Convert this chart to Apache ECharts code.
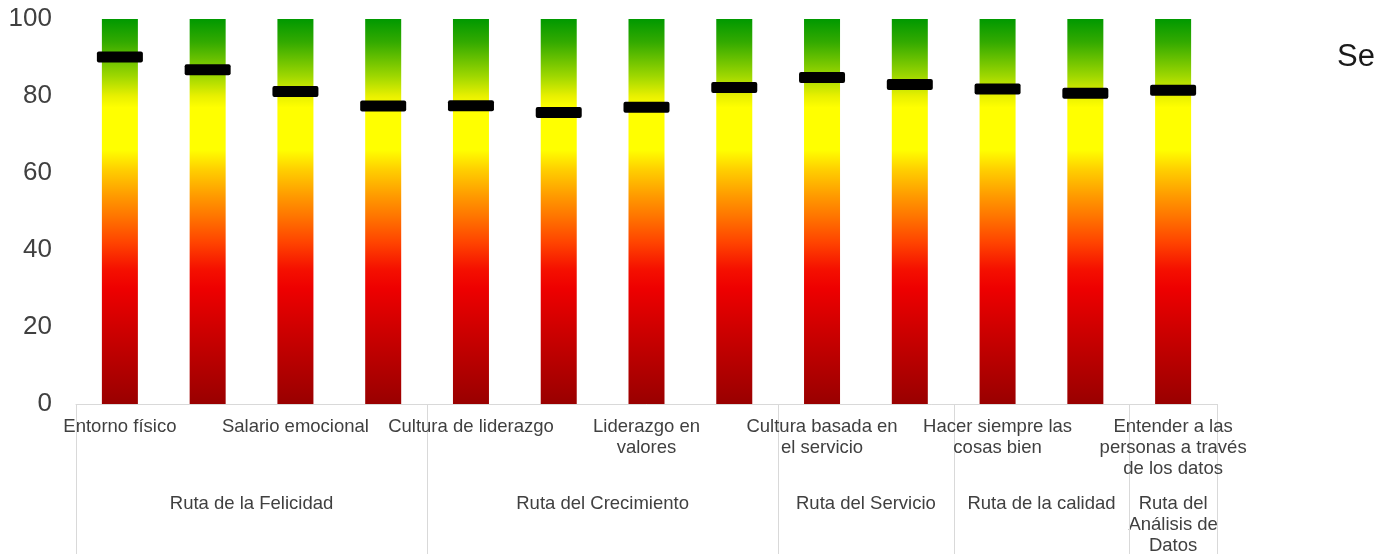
<!DOCTYPE html>
<html><head><meta charset="utf-8">
<script src="https://cdn.jsdelivr.net/npm/echarts@6/dist/echarts.min.js"></script>
<style>html,body{margin:0;padding:0;background:#fff}#c{width:1390px;height:554px}</style>
</head><body><div id="c"></div>
<script>
// Level-1 categories (unlabelled ones in the reference are left blank)
const categories = ['Entorno físico', '', 'Salario emocional', '', 'Cultura de liderazgo', '',
  'Liderazgo en\nvalores', '', 'Cultura basada en\nel servicio', '', 'Hacer siempre las\ncosas bien', '',
  'Entender a las\npersonas a través\nde los datos'];
// Score markers
const values = [90.1, 86.8, 81.2, 77.4, 77.5, 75.7, 77.1, 82.2, 84.8, 83.0, 81.8, 80.7, 81.5];
// Full-scale background bars
const scaleMax = [100, 100, 100, 100, 100, 100, 100, 100, 100, 100, 100, 100, 100];
// Level-2 groups
const groups = ['Ruta de la Felicidad', 'Ruta del Crecimiento', 'Ruta del Servicio', 'Ruta de la calidad', 'Ruta del\nAnálisis de\nDatos'];
const groupSizes = [4, 4, 2, 2, 1];
const yTicks = [0, 20, 40, 60, 80, 100];
const legendText = 'Se';

const FONT = "'Liberation Sans', Arial, sans-serif";
const chart = echarts.init(document.getElementById('c'));
const grad = new echarts.graphic.LinearGradient(0, 0, 0, 1, [
  {offset: 0, color: '#009900'},
  {offset: 0.06, color: '#33aa00'},
  {offset: 0.15, color: '#a0d800'},
  {offset: 0.20, color: '#e8f000'},
  {offset: 0.23, color: '#ffff00'},
  {offset: 0.34, color: '#ffff00'},
  {offset: 0.39, color: '#ffd000'},
  {offset: 0.46, color: '#ff9a00'},
  {offset: 0.51, color: '#ff7700'},
  {offset: 0.58, color: '#ff4400'},
  {offset: 0.65, color: '#f51000'},
  {offset: 0.70, color: '#ee0000'},
  {offset: 0.80, color: '#d00000'},
  {offset: 1, color: '#990000'}
]);
chart.setOption({
  animation: false,
  grid: {left: 76, right: 173, top: 19, bottom: 150},
  xAxis: {
    type: 'category', data: categories, boundaryGap: true,
    axisLine: {show: true, lineStyle: {color: '#d9d9d9', width: 1}},
    axisTick: {show: false},
    axisLabel: {interval: 0, margin: 12, fontSize: 18.5, lineHeight: 21, color: '#404040', fontFamily: FONT, align: 'center'}
  },
  yAxis: {
    type: 'value', min: yTicks[0], max: yTicks[yTicks.length - 1], interval: 20,
    axisLine: {show: false}, axisTick: {show: false}, splitLine: {show: false},
    axisLabel: {margin: 24, fontSize: 26, color: '#404040', fontFamily: FONT}
  },
  series: [
    {type: 'bar', data: scaleMax, barWidth: 36, itemStyle: {color: grad}, silent: true, z: 1},
    {type: 'scatter', data: values,
      symbol: 'path://M2,0 H44 Q46,0 46,2 V9 Q46,11 44,11 H2 Q0,11 0,9 V2 Q0,0 2,0 Z',
      symbolSize: [46, 11], symbolKeepAspect: false,
      itemStyle: {color: '#000000', opacity: 1}, z: 5}
  ]
});

function drawGroups() {
  const c0 = chart.convertToPixel({xAxisIndex: 0}, 0);
  const c1 = chart.convertToPixel({xAxisIndex: 0}, 1);
  const step = c1 - c0;
  const yAxis0 = chart.convertToPixel({yAxisIndex: 0}, 0);
  const els = [];
  let start = 0;
  const bounds = [c0 - step / 2];
  groups.forEach((g, gi) => {
    const end = start + groupSizes[gi] - 1;
    const left = chart.convertToPixel({xAxisIndex: 0}, start) - step / 2;
    const right = chart.convertToPixel({xAxisIndex: 0}, end) + step / 2;
    bounds.push(right);
    els.push({type: 'text', x: (left + right) / 2, y: yAxis0 + 89.5,
      style: {text: g, align: 'center', verticalAlign: 'top', fontSize: 18.5, lineHeight: 21, fill: '#404040', fontFamily: FONT}});
    start = end + 1;
  });
  bounds.forEach(b => {
    els.push({type: 'line', shape: {x1: Math.round(b) + 0.5, y1: yAxis0, x2: Math.round(b) + 0.5, y2: 554},
      style: {stroke: '#d9d9d9', lineWidth: 1}});
  });
  els.push({type: 'text', x: 1337, y: 57, style: {text: legendText, verticalAlign: 'middle', fontSize: 31, fill: '#1a1a1a', fontFamily: FONT}});
  chart.setOption({graphic: els});
}
drawGroups();
</script>
</body></html>
